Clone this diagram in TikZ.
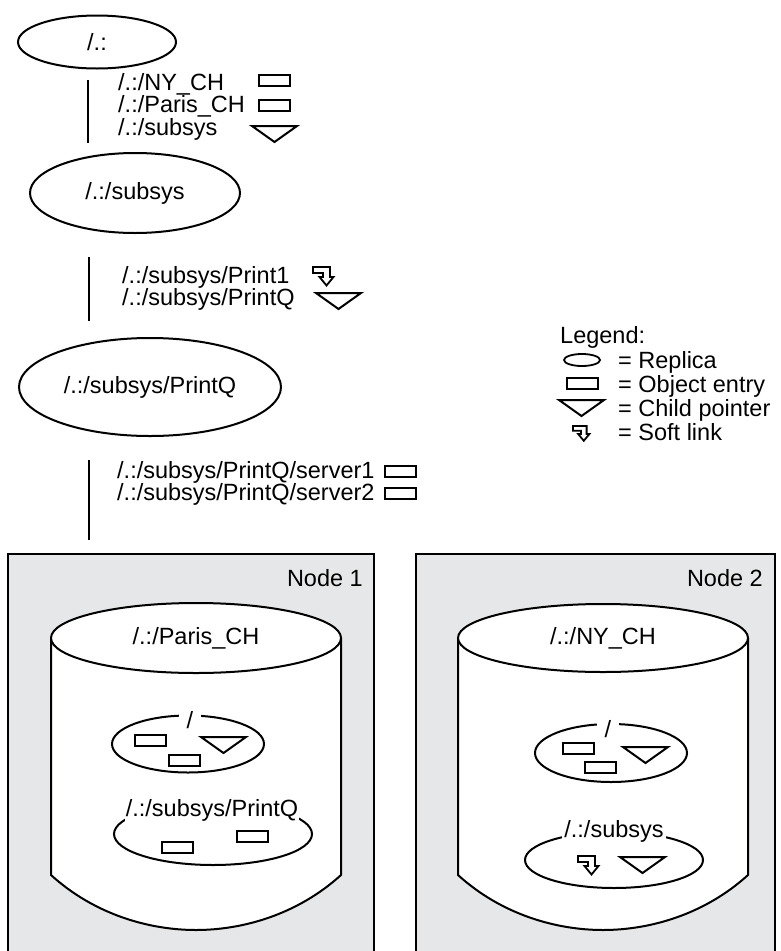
\documentclass[tikz,border=0pt]{standalone}
\usepackage{fontspec}
\setmainfont{Liberation Sans}
\usetikzlibrary{shapes.geometric}
\definecolor{nodegray}{HTML}{E6E7E8}
\tikzset{
  lbl/.style={font=\fontsize{23.5}{25}\selectfont, inner sep=0pt},
  replica/.style={ellipse, draw, line width=2pt, lbl},
  minirep/.style={ellipse, draw, line width=2pt, fill=white, inner sep=0pt},
  objrect/.style={draw, line width=2pt, minimum width=31pt, minimum height=11pt, inner sep=0pt, fill=white},
  vline/.style={line width=2.2pt},
  gaplabel/.style={lbl, fill=white, inner xsep=4pt, inner ysep=1pt},
  boxline/.style={line width=1.5pt},
  cylline/.style={line width=2pt, fill=white, line join=round},
  pics/childptr/.style={code={\draw[line width=2pt, line join=miter] (0,0) -- (45,0) -- (22.5,16) -- cycle;}},
  pics/softlink/.style={code={\draw[line width=1.8pt, line join=miter, fill=white] (0,0) -- (17,0) -- (17,10) -- (20.5,10) -- (13.5,18.5) -- (6.5,10) -- (10,10) -- (10,6) -- (0,6) -- cycle;}},
}
\begin{document}
\begin{tikzpicture}[x=1pt,y=-1pt]
\useasboundingbox (0,0) rectangle (780,951);

% ---------- hierarchy ----------
\node[replica, minimum width=158pt, minimum height=53pt] (root) at (97,42) {/.:};
\coordinate (l1a) at (88,80); \coordinate (l1b) at (88,143);
\draw[vline] (l1a) -- (l1b);
\node[lbl, anchor=base west] (t11) at (118,90) {/.:/NY\_CH};
\node[lbl, anchor=base west] (t12) at (118,112) {/.:/Paris\_CH};
\node[lbl, anchor=base west] (t13) at (118,135) {/.:/subsys};
\node[objrect] (r11) at (274.5,80.5) {};
\node[objrect] (r12) at (274.5,105.5) {};
\pic at (252,126) {childptr};

\node[replica, minimum width=210pt, minimum height=80pt] (subsys) at (135,193) {/.:/subsys};
\coordinate (l2a) at (89,257); \coordinate (l2b) at (89,321);
\draw[vline] (l2a) -- (l2b);
\node[lbl, anchor=base west] (t21) at (122,283) {/.:/subsys/Print1};
\node[lbl, anchor=base west] (t22) at (122,305) {/.:/subsys/PrintQ};
\pic at (313,267) {softlink};
\pic at (316,293) {childptr};

\node[replica, minimum width=262pt, minimum height=98pt] (printq) at (150,387) {/.:/subsys/PrintQ};
\coordinate (l3a) at (89,460); \coordinate (l3b) at (89,540);
\draw[vline] (l3a) -- (l3b);
\node[lbl, anchor=base west] (t31) at (117,478) {/.:/subsys/PrintQ/server1};
\node[lbl, anchor=base west] (t32) at (117,500) {/.:/subsys/PrintQ/server2};
\node[objrect] (r31) at (400,471) {};
\node[objrect] (r32) at (400,493) {};

% ---------- legend ----------
\node[lbl, anchor=base west] (leg) at (560,343) {Legend:};
\node[ellipse, draw, line width=1.8pt, minimum width=36pt, minimum height=12pt, inner sep=0pt] (lege) at (582,360) {};
\node[lbl, anchor=base west] (legt1) at (618,368) {= Replica};
\node[objrect] (legr) at (582.5,383.5) {};
\node[lbl, anchor=base west] (legt2) at (618,392) {= Object entry};
\pic at (559,400) {childptr};
\node[lbl, anchor=base west] (legt3) at (618,416) {= Child pointer};
\pic[scale=0.8] at (573,426) {softlink};
\node[lbl, anchor=base west] (legt4) at (618,440) {= Soft link};

% ---------- Node 1 ----------
\fill[nodegray] (8,554) rectangle (374,951);
\draw[boxline] (8,951) -- (8,554) -- (374,554) -- (374,951);
\node[lbl, anchor=base east] (n1) at (363,586) {Node 1};
\filldraw[cylline] (51,638) -- (51,875) .. controls (95,915) and (150,930) .. (196,930) .. controls (242,930) and (297,915) .. (341,875) -- (341,638) -- cycle;
\node[replica, fill=white, minimum width=290pt, minimum height=70pt] (cyl1) at (196,638) {/.:/Paris\_CH};
\node[minirep, minimum width=152pt, minimum height=57pt] (e1a) at (188,744) {};
\node[gaplabel, inner xsep=7.5pt] (e1al) at (190,720) {/};
\node[objrect] (ra) at (150.5,740.5) {};
\node[objrect] (rb) at (184,760) {};
\pic at (201,737) {childptr};
\node[minirep, minimum width=198pt, minimum height=62pt] (e1b) at (213,834) {};
\node[gaplabel, inner xsep=1pt] (e1bl) at (212,810) {/.:/subsys/PrintQ};
\node[objrect] (rc) at (177,847.5) {};
\node[objrect] (rd) at (252,836) {};

% ---------- Node 2 ----------
\fill[nodegray] (416,554) rectangle (775,951);
\draw[boxline] (416,951) -- (416,554) -- (775,554) -- (775,951);
\node[lbl, anchor=base east] (n2) at (763,586) {Node 2};
\filldraw[cylline] (458,638) -- (458,875) .. controls (502,915) and (557,930) .. (603,930) .. controls (649,930) and (704,915) .. (748,875) -- (748,638) -- cycle;
\node[replica, fill=white, minimum width=290pt, minimum height=68pt] (cyl2) at (603,638) {/.:/NY\_CH};
\node[minirep, minimum width=152pt, minimum height=58pt] (e2a) at (611,753) {};
\node[gaplabel, inner xsep=7.5pt] (e2al) at (608,729) {/};
\node[objrect] (re) at (578,748.5) {};
\node[objrect] (rf) at (600.5,767.5) {};
\pic at (623,747) {childptr};
\node[minirep, minimum width=178pt, minimum height=56pt] (e2b) at (614,860) {};
\node[gaplabel, inner xsep=2pt] (e2bl) at (614,831) {/.:/subsys};
\pic at (578,856) {softlink};
\pic at (620,857) {childptr};
\end{tikzpicture}
\end{document}
